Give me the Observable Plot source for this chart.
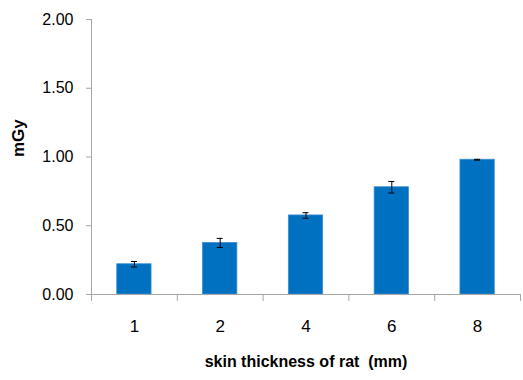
<!DOCTYPE html>
<html>
<head>
<meta charset="utf-8">
<script src="https://cdn.jsdelivr.net/npm/d3@7"></script>
<script src="https://cdn.jsdelivr.net/npm/@observablehq/plot@0.6"></script>
<style>
  html, body { margin: 0; padding: 0; background: #fff; }
  #chart svg { display: block; }
</style>
</head>
<body>
<div id="chart"></div>
<script>
const categories = ["1", "2", "4", "6", "8"];
const values = [0.22, 0.375, 0.575, 0.78, 0.98];
const errors = [0.02, 0.033, 0.02, 0.042, 0.003];
const yTicks = [0, 0.5, 1.0, 1.5, 2.0];
const xTitle = "skin thickness of rat  (mm)";
const yTitle = "mGy";

const data = categories.map((c, i) => ({cat: c, i, value: values[i], err: errors[i]}));
const boundaries = d3.range(1, categories.length + 1);
const centers = categories.map((c, i) => i + 0.5);

const axisGray = "#a6a6a6";
const barColor = "#0070c0";

const chart = Plot.plot({
  width: 523,
  height: 380,
  marginLeft: 91,
  marginRight: 3,
  marginTop: 19,
  marginBottom: 86,
  style: {fontFamily: "'Liberation Sans', Arial, sans-serif", background: "#fff", color: "#000"},
  x: {type: "linear", domain: [0, categories.length]},
  y: {domain: [0, 2]},
  marks: [
    Plot.rectY(data, {x1: d => d.i + 0.3, x2: d => d.i + 0.7, y1: 0, y2: "value", fill: barColor, stroke: "#3d8fd0", strokeWidth: 0.8}),
    Plot.ruleX(data, {x: d => d.i + 0.5, y1: d => d.value - d.err, y2: d => d.value + d.err, stroke: "#000", strokeWidth: 1}),
    Plot.ruleY(data, {y: d => d.value + d.err, x1: d => d.i + 0.465, x2: d => d.i + 0.535, stroke: "#000", strokeWidth: 1}),
    Plot.ruleY(data, {y: d => d.value - d.err, x1: d => d.i + 0.465, x2: d => d.i + 0.535, stroke: "#000", strokeWidth: 1}),
    Plot.ruleX([0], {stroke: axisGray, insetBottom: -7}),
    Plot.ruleY([0], {stroke: axisGray}),
    Plot.axisY({ticks: yTicks, tickSize: 5, tickPadding: 13, stroke: axisGray, fill: "#000", tickFormat: d3.format(".2f"), fontSize: 16, label: null}),
    Plot.axisX({ticks: boundaries, tickSize: 7, stroke: axisGray, tickFormat: () => "", label: null}),
    Plot.axisX({ticks: centers, tickSize: 0, tickPadding: 25, fill: "#000", tickFormat: d => categories[Math.floor(d)], fontSize: 17, label: null}),
    Plot.text([yTitle], {frameAnchor: "left", rotate: -90, dx: -73, fontWeight: "bold", fontSize: 17}),
    Plot.text([xTitle], {frameAnchor: "bottom", dy: 72, fontWeight: "bold", fontSize: 16, style: "letter-spacing:-0.2px"})
  ]
});
document.getElementById("chart").appendChild(chart);
</script>
</body>
</html>
